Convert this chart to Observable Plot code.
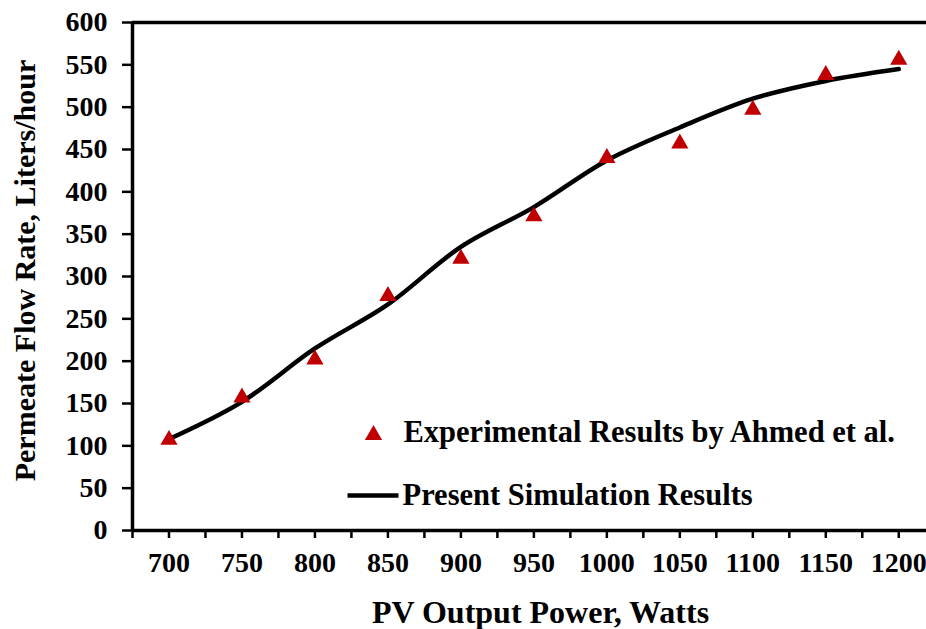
<!DOCTYPE html>
<html>
<head>
<meta charset="utf-8">
<script src="https://cdn.jsdelivr.net/npm/d3@7"></script>
<script src="https://cdn.jsdelivr.net/npm/@observablehq/plot@0.6"></script>
<style>
  html, body { margin: 0; padding: 0; background: #fff; }
</style>
</head>
<body>
<div id="chart"></div>
<script>
// Data
const power = [700, 750, 800, 850, 900, 950, 1000, 1050, 1100, 1150, 1200];
const experimental = [110, 160, 205, 280, 324, 374, 443, 460, 500, 541, 559];
const simulation = [108, 152, 215, 267, 335, 382, 437, 476, 510, 531, 545];

const xTickMarks = [675, 700, 725, 750, 775, 800, 825, 850, 875, 900, 925, 950, 975, 1000, 1025, 1050, 1075, 1100, 1125, 1150, 1175, 1200];
const xTickLabels = [700, 750, 800, 850, 900, 950, 1000, 1050, 1100, 1150, 1200];
const yTicks = [0, 50, 100, 150, 200, 250, 300, 350, 400, 450, 500, 550, 600];

const xTitle = "PV Output Power, Watts";
const yTitle = "Permeate Flow Rate, Liters/hour";
const legendExp = "Experimental Results by Ahmed et al.";
const legendSim = "Present Simulation Results";

const expData = power.map((p, i) => ({power: p, value: experimental[i]}));
const simData = power.map((p, i) => ({power: p, value: simulation[i]}));

const red = "#C00000";
const font = "'Liberation Serif', 'Times New Roman', serif";
const tickFs = 28;
const legendFs = 30.5;
const titleFs = 32;

const lineSymbol = {
  draw(ctx, size) { ctx.moveTo(-25.5, 0); ctx.lineTo(25.5, 0); }
};

const chart = Plot.plot({
  width: 926,
  height: 629,
  marginLeft: 132,
  marginRight: 0,
  marginTop: 22,
  marginBottom: 99,
  style: {fontFamily: font, fontWeight: "bold", fontSize: tickFs + "px", color: "#000", background: "#fff"},
  x: {domain: [675, 1219]},
  y: {domain: [0, 600]},
  marks: [
    // tick marks every 25 W
    Plot.axisX({ticks: xTickMarks, tickSize: 8, strokeWidth: 2.5, tickFormat: () => "", label: null}),
    // labels every 50 W
    Plot.axisX({ticks: xTickLabels, tickSize: 0, tickPadding: 22, fontSize: tickFs, tickFormat: d => String(d), label: null}),
    Plot.axisY({ticks: yTicks, tickSize: 10, tickPadding: 15, strokeWidth: 2.5, fontSize: tickFs, tickFormat: d => String(d), label: null}),
    // frame: left, bottom, top
    Plot.ruleX([675], {y1: 0, y2: 600, strokeWidth: 3.5, stroke: "#000"}),
    Plot.ruleY([0], {strokeWidth: 3.5, stroke: "#000"}),
    Plot.ruleY([600], {strokeWidth: 3.5, stroke: "#000"}),
    // simulation line
    Plot.line(simData, {x: "power", y: "value", stroke: "#000", strokeWidth: 4.5, curve: "catmull-rom"}),
    // experimental triangles
    Plot.dot(expData, {x: "power", y: "value", symbol: "triangle", r: 6.4, fill: red, stroke: "none", dy: 2.5}),
    // legend
    Plot.dot([legendExp], {frameAnchor: "bottom-left", dx: 241, dy: -95.5, symbol: "triangle", r: 6.4, fill: red, stroke: "none"}),
    Plot.text([legendExp], {text: d => d, frameAnchor: "bottom-left", dx: 271, dy: -98, textAnchor: "start", lineAnchor: "middle", fontSize: legendFs, fontWeight: "bold", fill: "#000"}),
    Plot.dot([legendSim], {frameAnchor: "bottom-left", dx: 240.5, dy: -35, symbol: lineSymbol, r: 5, fill: "none", stroke: "#000", strokeWidth: 4.5}),
    Plot.text([legendSim], {text: d => d, frameAnchor: "bottom-left", dx: 270, dy: -35.6, textAnchor: "start", lineAnchor: "middle", fontSize: legendFs, fontWeight: "bold", fill: "#000"}),
    // axis titles
    Plot.text([xTitle], {text: d => d, frameAnchor: "bottom", dx: 11, dy: 82, textAnchor: "middle", lineAnchor: "middle", fontSize: titleFs, fontWeight: "bold", fill: "#000"}),
    Plot.text([yTitle], {text: d => d, frameAnchor: "left", rotate: -90, dx: -107, dy: -6, textAnchor: "middle", lineAnchor: "middle", fontSize: 30, fontWeight: "bold", fill: "#000"})
  ]
});
document.getElementById("chart").appendChild(chart);
</script>
</body>
</html>
